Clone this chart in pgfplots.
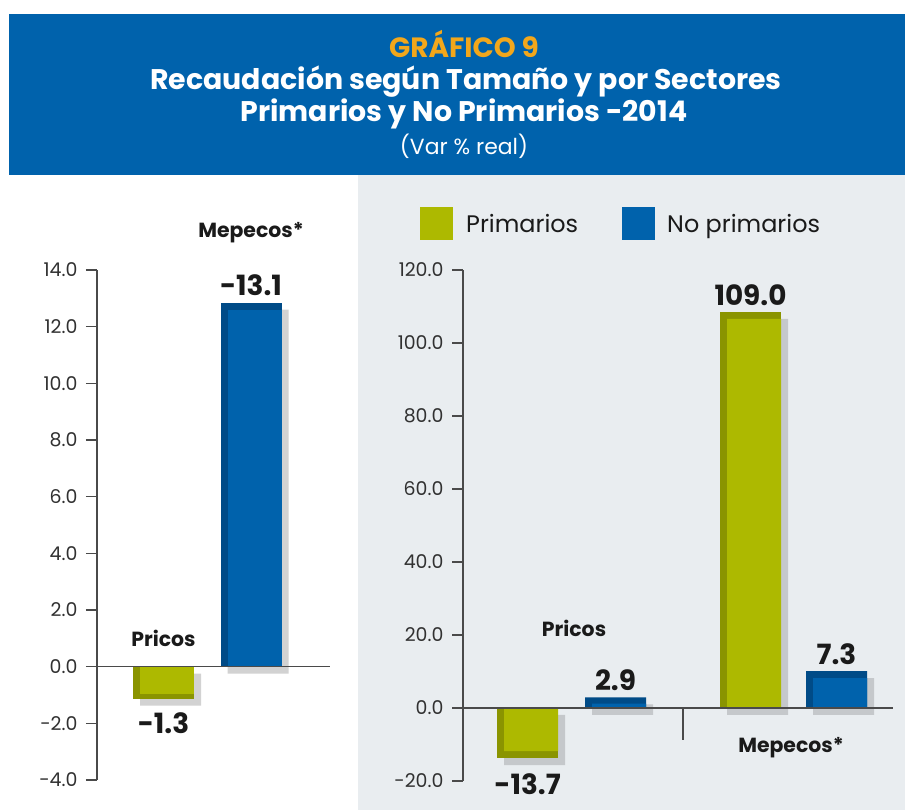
\documentclass[border=0pt]{standalone}
\usepackage{fontspec}
\setmainfont{Poppins}
\usepackage{pgfplots}
\pgfplotsset{compat=1.18}
\definecolor{bandblue}{HTML}{0062AC}
\definecolor{titleorange}{HTML}{F2A71B}
\definecolor{panelgray}{HTML}{E9EDF0}
\definecolor{grn}{HTML}{ADB900}
\definecolor{grndark}{HTML}{8A9400}
\definecolor{blu}{HTML}{0062AC}
\definecolor{bludark}{HTML}{004B87}
\definecolor{shadowA}{HTML}{D2D2D2}
\definecolor{shadowB}{HTML}{C5C8CB}
\definecolor{axisgray}{HTML}{4A4A4A}
\definecolor{txt}{HTML}{1A1A1A}

\pgfplotsset{
  panel/.style={
    scale only axis, clip=false,
    axis lines=left,
    xtick=\empty,
    axis line style={-, color=axisgray, line width=1.5bp},
    x axis line style={draw=none},
    tick align=outside, major tick length=11bp,
    every tick/.style={axisgray, line width=1.2bp},
    /pgf/number format/assume math mode=true,
    yticklabel style={font=\fontsize{19}{19}\selectfont, text=txt!90, xshift=-5bp,
      /pgf/number format/fixed, /pgf/number format/fixed zerofill,
      /pgf/number format/precision=1},
  },
  bars/.style={ybar, bar width=61bp, bar shift=0pt, draw=none},
  inner/.style={ybar, bar width=54bp, bar shift=3.5bp, draw=none},
  shadowbar/.style={ybar, bar width=61bp, bar shift=7bp, yshift=-7bp, draw=none},
  valpos/.style={nodes near coords, point meta=explicit symbolic,
    nodes near coords style={font=\fontsize{28}{28}\selectfont\bfseries, text=txt, anchor=south, yshift=3bp}},
  valneg/.style={nodes near coords, point meta=explicit symbolic,
    nodes near coords style={font=\fontsize{28}{28}\selectfont\bfseries, text=txt, anchor=north, yshift=-#1}},
}
\tikzset{catlab/.style={font=\fontsize{20.5}{20.5}\selectfont\bfseries, text=txt}}

\begin{document}
\begin{tikzpicture}[x=1bp,y=1bp]
\useasboundingbox (0,0) rectangle (905,810);
\fill[white] (0,0) rectangle (905,810);
\fill[panelgray] (358,0) rectangle (905,635);
\fill[bandblue] (9,635) rectangle (905,796);
\node[anchor=base, font=\bfseries\fontsize{28}{28}\selectfont, text=titleorange] at (464,752) {GRÁFICO 9};
\node[anchor=base, font=\bfseries\fontsize{28.5}{28.5}\selectfont, text=white] at (466,720) {Recaudación según Tamaño y por Sectores};
\node[anchor=base, font=\bfseries\fontsize{28.5}{28.5}\selectfont, text=white] at (464,688) {Primarios y No Primarios -2014};
\node[anchor=base, font=\fontsize{22}{22}\selectfont, text=white] at (464,655) {(Var \% real)};

% legend
\fill[grn] (420,570) rectangle (453,603);
\node[anchor=base west, inner sep=0pt, font=\fontsize{24}{24}\selectfont, text=txt] at (466,577) {Primarios};
\fill[blu] (622,570) rectangle (655,603);
\node[anchor=base west, inner sep=0pt, font=\fontsize{24}{24}\selectfont, text=txt] at (667,577) {No primarios};

% left panel
\begin{axis}[panel, at={(97bp,30bp)}, anchor=south west,
  width=233bp, height=510bp, xmin=97, xmax=330, ymin=-4, ymax=14,
  ytick={-4,-2,0,2,4,6,8,10,12,14}]
  \addplot[shadowbar, fill=shadowA] coordinates {(163.5,-1.13) (251,12.85)};
  \addplot[bars, fill=grndark, valneg=10bp] table[meta=label] {
x y label
163.5 -1.13 -1.3
};
  \addplot[inner, fill=grn] coordinates {(163.5,-0.95)};
  \addplot[bars, fill=bludark, valpos] table[meta=label] {
x y label
251 12.85 -13.1
};
  \addplot[inner, fill=blu] coordinates {(251,12.6)};
  \draw[axisgray, line width=1.2bp] (axis cs:97,0) -- (axis cs:330,0);
  \node[catlab] at (axis cs:163.5,0.99) {Pricos};
  \node[catlab] at (axis cs:251,15.3) {Mepecos*};
\end{axis}

% right panel
\begin{axis}[panel, at={(463bp,29bp)}, anchor=south west,
  width=430bp, height=511bp, xmin=463, xmax=893, ymin=-20, ymax=120,
  ytick={-20,0,20,40,60,80,100,120}]
  \addplot[shadowbar, fill=shadowB] coordinates {(527.5,-13.7) (615.5,2.9) (750.5,108.5) (836.5,10.1)};
  \addplot[bars, fill=grndark, valneg=12bp] table[meta=label] {
x y label
527.5 -13.7 -13.7
};
  \addplot[bars, fill=grndark, valpos] table[meta=label] {
x y label
750.5 108.5 109.0
};
  \addplot[inner, fill=grn] coordinates {(527.5,-11.8) (750.5,106.6)};
  \addplot[bars, fill=bludark, valpos] table[meta=label] {
x y label
615.5 2.9 2.9
836.5 10.1 7.3
};
  \addplot[inner, fill=blu] coordinates {(615.5,1.2) (836.5,8.2)};
  \draw[axisgray, line width=1.2bp] (axis cs:463,0) -- (axis cs:893,0);
  \draw[axisgray, line width=1.2bp] (axis cs:683,0) -- (axis cs:683,-8.8);
  \node[catlab] at (axis cs:574,21.9) {Pricos};
  \node[catlab] at (axis cs:791,-11.0) {Mepecos*};
\end{axis}
\end{tikzpicture}
\end{document}
